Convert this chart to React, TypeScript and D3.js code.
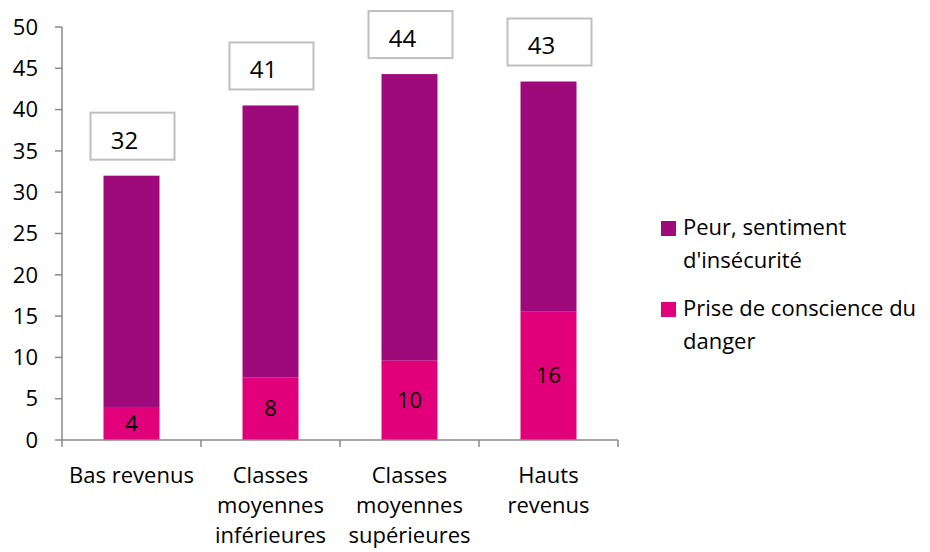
import React, { useRef, useEffect } from 'react';
import * as d3 from 'd3';

// data
const categories = [
  ['Bas revenus'],
  ['Classes', 'moyennes', 'inférieures'],
  ['Classes', 'moyennes', 'supérieures'],
  ['Hauts', 'revenus'],
];
const priseDeConscience = [4, 7.6, 9.6, 15.6];
const peur = [28, 32.9, 34.7, 27.8];
const priseLabels = ['4', '8', '10', '16'];
const totalLabels = ['32', '41', '44', '43'];
const yTicks = [0, 5, 10, 15, 20, 25, 30, 35, 40, 45, 50];
const seriesNames = [
  ['Peur, sentiment', "d'insécurité"],
  ['Prise de conscience du', 'danger'],
];

const W = 930;
const H = 552;

const App: React.FC = () => {
  const svgRef = useRef<SVGSVGElement | null>(null);

  useEffect(() => {
    if (!svgRef.current) return;
    const svg = d3.select(svgRef.current);
    svg.selectAll('*').remove();

    const colors = {
      peur: '#9E0A7A',
      prise: '#E2007A',
      axis: '#898989',
      box: '#BFBFBF',
      text: '#000',
    };
    const font = '"Open Sans", sans-serif';
    const fs = 22;

    const x0 = 62, x1 = 618, yTop = 27, yBase = 440;
    const x = d3.scaleBand<number>().domain(d3.range(categories.length)).range([x0, x1]).paddingInner(0).paddingOuter(0);
    const y = d3.scaleLinear().domain([0, 50]).range([yBase, yTop]);
    const barW = 56;

    const g = svg.append('g');

    // bars
    categories.forEach((_, i) => {
      const cx = x(i)! + x.bandwidth() / 2;
      const p = priseDeConscience[i];
      const tot = p + peur[i];
      g.append('rect')
        .attr('x', cx - barW / 2).attr('width', barW)
        .attr('y', y(tot)).attr('height', y(p) - y(tot))
        .attr('fill', colors.peur);
      g.append('rect')
        .attr('x', cx - barW / 2).attr('width', barW)
        .attr('y', y(p)).attr('height', y(0) - y(p))
        .attr('fill', colors.prise);
      // value inside pink segment
      g.append('text')
        .attr('x', cx).attr('y', (y(p) + y(0)) / 2)
        .attr('dy', '0.35em')
        .attr('text-anchor', 'middle')
        .attr('font-family', font).attr('font-size', fs)
        .attr('fill', colors.text)
        .text(priseLabels[i]);
      // total label box
      const bw = 84, bh = 47;
      const bx = cx + 1 - bw / 2;
      const by = y(tot) - 16 - bh;
      g.append('rect')
        .attr('x', bx).attr('y', by).attr('width', bw).attr('height', bh)
        .attr('fill', '#fff').attr('stroke', colors.box).attr('stroke-width', 2);
      g.append('text')
        .attr('x', bx + bw / 2 - 8).attr('y', by + bh / 2 + 4)
        .attr('dy', '0.35em')
        .attr('text-anchor', 'middle')
        .attr('font-family', font).attr('font-size', 24)
        .attr('fill', colors.text)
        .text(totalLabels[i]);
    });

    // y axis
    g.append('line')
      .attr('x1', x0).attr('x2', x0).attr('y1', y(50)).attr('y2', yBase)
      .attr('stroke', colors.axis).attr('stroke-width', 1.5);
    yTicks.forEach((t) => {
      g.append('line')
        .attr('x1', x0 - 7).attr('x2', x0).attr('y1', y(t)).attr('y2', y(t))
        .attr('stroke', colors.axis).attr('stroke-width', 1.5);
      g.append('text')
        .attr('x', 38).attr('y', y(t)).attr('dy', '0.35em')
        .attr('text-anchor', 'end')
        .attr('font-family', font).attr('font-size', fs)
        .attr('fill', colors.text)
        .text(t);
    });

    // x axis
    g.append('line')
      .attr('x1', x0).attr('x2', x1).attr('y1', yBase).attr('y2', yBase)
      .attr('stroke', colors.axis).attr('stroke-width', 1.5);
    d3.range(categories.length + 1).forEach((i) => {
      const tx = i < categories.length ? x(i)! : x1;
      g.append('line')
        .attr('x1', tx).attr('x2', tx).attr('y1', yBase).attr('y2', yBase + 7)
        .attr('stroke', colors.axis).attr('stroke-width', 1.5);
    });
    categories.forEach((lines, i) => {
      const cx = x(i)! + x.bandwidth() / 2;
      lines.forEach((ln, k) => {
        g.append('text')
          .attr('x', cx).attr('y', 483 + k * 30)
          .attr('text-anchor', 'middle')
          .attr('font-family', font).attr('font-size', fs)
          .attr('fill', colors.text)
          .text(ln);
      });
    });

    // legend
    const legendColors = [colors.peur, colors.prise];
    seriesNames.forEach((lines, i) => {
      const ly = 221 + i * 81;
      g.append('rect')
        .attr('x', 661).attr('y', ly).attr('width', 15).attr('height', 15)
        .attr('fill', legendColors[i]);
      lines.forEach((ln, k) => {
        g.append('text')
          .attr('x', 683).attr('y', ly + 14 + k * 33)
          .attr('font-family', font).attr('font-size', fs)
          .attr('fill', colors.text)
          .text(ln);
      });
    });
  }, []);

  return (
    <svg
      ref={svgRef}
      width={W}
      height={H}
      style={{ position: 'absolute', left: 0, top: 0, background: '#fff' }}
    ></svg>
  );
};

export default App;
